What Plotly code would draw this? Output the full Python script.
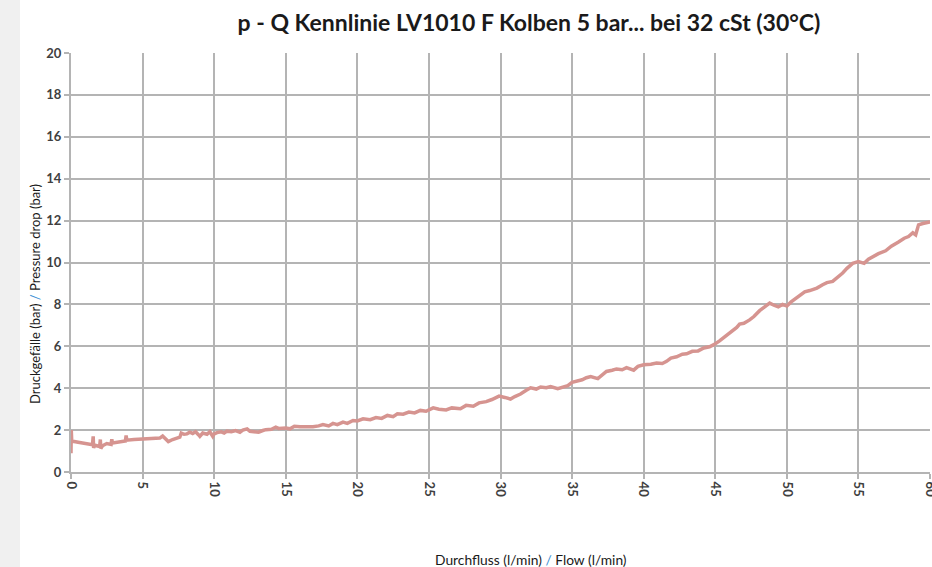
import plotly.graph_objects as go

flow = [0.0, 0.02, 0.05, 0.5, 1.0, 1.5, 1.55, 1.58, 1.65, 2.0, 2.05, 2.08, 2.2, 2.5, 2.8, 2.85, 2.9, 3.3, 3.8, 3.85,
        3.9, 4.4, 4.9, 5.3, 5.8, 6.2, 6.4, 6.6, 6.8, 7.1, 7.4, 7.6, 7.7, 7.9, 8.1, 8.3, 8.5, 8.7, 8.9, 9.0,
        9.2, 9.5, 9.7, 9.9, 10.0, 10.2, 10.5, 10.7, 10.9, 11.2, 11.5, 11.8, 12.0, 12.3, 12.5, 12.7, 13.1, 13.4, 13.6, 14.0,
        14.3, 14.5, 15.0, 15.3, 15.6, 16.0, 16.5, 16.9, 17.3, 17.6, 18.0, 18.3, 18.6, 19.0, 19.3, 19.7, 20.0, 20.4, 20.9, 21.3,
        21.7, 22.1, 22.5, 22.8, 23.2, 23.6, 24.0, 24.4, 24.8, 25.3, 25.7, 26.2, 26.6, 27.2, 27.6, 28.1, 28.5, 29.0, 29.4, 29.9,
        30.3, 30.7, 31.0, 31.4, 31.8, 32.1, 32.5, 32.8, 33.2, 33.5, 34.0, 34.4, 34.7, 35.0, 35.4, 35.7, 36.0, 36.3, 36.8, 37.1,
        37.4, 37.8, 38.1, 38.5, 38.8, 39.3, 39.6, 40.0, 40.5, 40.9, 41.3, 41.6, 41.9, 42.3, 42.7, 43.0, 43.4, 43.8, 44.2, 44.6,
        44.9, 45.3, 45.6, 45.9, 46.2, 46.5, 46.7, 47.0, 47.4, 47.7, 48.1, 48.4, 48.8, 49.1, 49.4, 49.7, 50.0, 50.3, 50.6, 50.9,
        51.25, 51.6, 52.1, 52.5, 52.8, 53.2, 53.5, 53.9, 54.2, 54.6, 55.0, 55.4, 55.7, 56.0, 56.4, 56.9, 57.3, 57.8, 58.2, 58.5,
        58.8, 59.0, 59.2, 59.5, 59.8, 60.0]

pressure = [0.90, 2.00, 1.48, 1.42, 1.36, 1.30, 1.70, 1.15, 1.28, 1.22, 1.55, 1.12, 1.25, 1.36, 1.32, 1.56, 1.38, 1.43, 1.48, 1.74,
            1.52, 1.55, 1.58, 1.60, 1.63, 1.62, 1.72, 1.58, 1.45, 1.55, 1.60, 1.66, 1.86, 1.80, 1.82, 1.90, 1.84, 1.92, 1.78, 1.70,
            1.86, 1.80, 1.92, 1.70, 1.82, 1.88, 1.92, 1.86, 1.95, 1.92, 1.98, 1.90, 2.00, 2.06, 1.94, 1.92, 1.90, 1.98, 2.02, 2.04,
            2.14, 2.08, 2.10, 2.06, 2.18, 2.16, 2.14, 2.16, 2.20, 2.26, 2.20, 2.32, 2.26, 2.38, 2.32, 2.46, 2.44, 2.54, 2.50, 2.60,
            2.56, 2.70, 2.64, 2.78, 2.76, 2.86, 2.82, 2.94, 2.90, 3.06, 3.00, 2.96, 3.06, 3.02, 3.18, 3.14, 3.30, 3.36, 3.46, 3.62,
            3.56, 3.48, 3.60, 3.72, 3.90, 4.02, 3.96, 4.06, 4.02, 4.08, 3.98, 4.04, 4.12, 4.28, 4.34, 4.40, 4.50, 4.56, 4.46, 4.62,
            4.80, 4.86, 4.92, 4.88, 4.98, 4.86, 5.04, 5.12, 5.14, 5.20, 5.18, 5.28, 5.44, 5.50, 5.62, 5.64, 5.76, 5.78, 5.92, 5.98,
            6.08, 6.26, 6.42, 6.54, 6.70, 6.90, 7.06, 7.10, 7.26, 7.42, 7.70, 7.84, 8.06, 7.96, 7.88, 8.00, 7.92, 8.12, 8.26, 8.42,
            8.60, 8.66, 8.78, 8.94, 9.04, 9.10, 9.26, 9.50, 9.72, 9.96, 10.04, 9.96, 10.16, 10.28, 10.42, 10.56, 10.78, 10.98, 11.16, 11.24,
            11.42, 11.32, 11.80, 11.86, 11.90, 11.94]

x_ticks = [0, 5, 10, 15, 20, 25, 30, 35, 40, 45, 50, 55, 60]
y_ticks = [0, 2, 4, 6, 8, 10, 12, 14, 16, 18, 20]

title_text = "p - Q Kennlinie LV1010 F Kolben 5 bar... bei 32 cSt (30°C)"
y_label = "Druckgefälle (bar) <span style='color:#3a8fd4'>/</span> Pressure drop (bar)"
x_label = "Durchfluss (l/min) <span style='color:#3a8fd4'>/</span> Flow (l/min)"

W, H = 932, 567
L, R, T, B = 71, 2, 53, 95
pw = W - L - R
ph = H - T - B

fig = go.Figure()
fig.add_trace(go.Scatter(x=flow, y=pressure, mode="lines",
                         line=dict(color="rgb(214,148,144)", width=3.5),
                         showlegend=False, hoverinfo="skip"))

grid = "#b4b4b4"
fig.update_layout(
    width=W, height=H,
    margin=dict(l=L, r=R, t=T, b=B, autoexpand=False),
    paper_bgcolor="white", plot_bgcolor="white",
    font=dict(family="Lato", color="#333333"),
    title=dict(text="<b>" + title_text + "</b>", xref="container", x=529 / W, xanchor="center",
               yref="container", y=1 - 23 / H, yanchor="middle",
               font=dict(family="Lato", size=23, color="#1a1a1a")),
    xaxis=dict(range=[0, 60], tickvals=x_ticks, ticktext=[str(v) for v in x_ticks],
               tickangle=90, showgrid=True, gridcolor=grid, gridwidth=2,
               showline=True, linecolor=grid, linewidth=2,
               ticks="outside", ticklen=5, tickcolor=grid, tickwidth=2,
               ticklabeloverflow="allow", automargin=False,
               tickfont=dict(family="Lato", size=13, color="#404040", weight="bold"),
               zeroline=False, fixedrange=True),
    yaxis=dict(range=[0, 20], tickvals=y_ticks, ticktext=[str(v) for v in y_ticks],
               showgrid=True, gridcolor=grid, gridwidth=2,
               showline=True, linecolor=grid, linewidth=2,
               ticks="outside", ticklen=5, tickcolor=grid, tickwidth=2,
               automargin=False,
               tickfont=dict(family="Lato", size=13, color="#404040", weight="bold"),
               zeroline=False, fixedrange=True),
)

# gray strip on the left
fig.add_shape(type="rect", xref="paper", yref="paper",
              x0=(0 - L) / pw, x1=(20 - L) / pw, y0=-B / ph - 0.01, y1=1 + T / ph + 0.01,
              fillcolor="#f0f0f0", line=dict(width=0), layer="below")

fig.add_annotation(text=y_label, xref="paper", yref="paper",
                   x=(35 - L) / pw, y=(H - B - 294) / ph, textangle=-90,
                   showarrow=False, xanchor="center", yanchor="middle",
                   font=dict(family="Lato", size=13, color="#1a1a1a"))
fig.add_annotation(text=x_label, xref="paper", yref="paper",
                   x=(531 - L) / pw, y=(H - B - 559) / ph,
                   showarrow=False, xanchor="center", yanchor="middle",
                   font=dict(family="Lato", size=13.8, color="#1a1a1a"))

fig.write_html("out.html", config={"displayModeBar": False},
               post_script="document.body.style.margin='0';document.body.style.padding='0';document.body.style.overflow='hidden';")
